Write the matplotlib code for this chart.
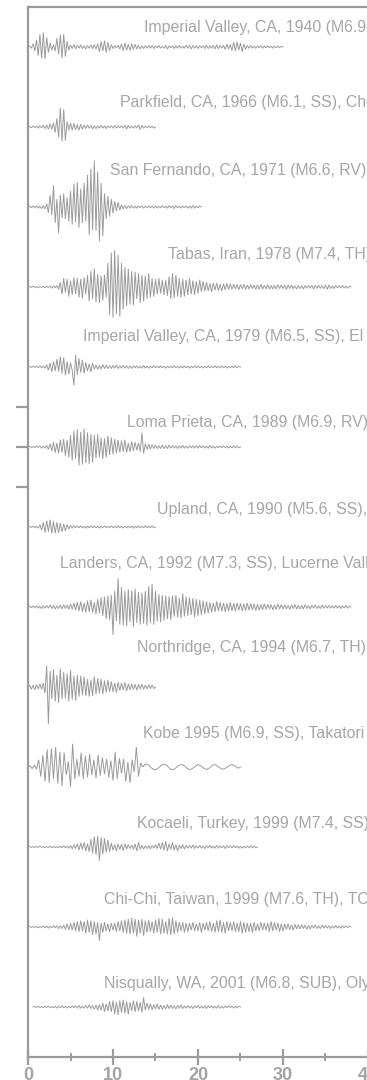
import numpy as np
import matplotlib

matplotlib.use("Agg")
import matplotlib.pyplot as plt
from matplotlib.ticker import MultipleLocator

GREY = "#9b9b9b"

# record names (clipped at the right edge in the original)
labels = [
    "Imperial Valley, CA, 1940 (M6.9, SS), El Centro",
    "Parkfield, CA, 1966 (M6.1, SS), Cholame 2",
    "San Fernando, CA, 1971 (M6.6, RV)",
    "Tabas, Iran, 1978 (M7.4, TH), Tabas",
    "Imperial Valley, CA, 1979 (M6.5, SS), El Centro #6",
    "Loma Prieta, CA, 1989 (M6.9, RV), Los Gatos",
    "Upland, CA, 1990 (M5.6, SS), Pomona",
    "Landers, CA, 1992 (M7.3, SS), Lucerne Valley",
    "Northridge, CA, 1994 (M6.7, TH)",
    "Kobe 1995 (M6.9, SS), Takatori",
    "Kocaeli, Turkey, 1999 (M7.4, SS), Yarimca",
    "Chi-Chi, Taiwan, 1999 (M7.6, TH), TCU068",
    "Nisqually, WA, 2001 (M6.8, SUB), Olympia",
]

# time step (s) and start time of every record
dt = [0.2, 0.2, 0.2, 0.2, 0.2, 0.2, 0.2, 0.2, 0.2, 0.25, 0.2, 0.2, 0.2]
t0 = [0, 0, 0, 0, 0, 0, 0, 0, 0, 0, 0, 0, 0.6]

# accelerations in 0.01 g
imperial_1940 = [
    0, 2, -3, 8, -10, 18, -22, 32, -28, 36, -30, 24, -14, 10, -8, 6, -10, 22, -18, 30,
    -28, 32, -24, 14, -8, 5, -4, 6, -5, 4, -3, 5, -4, 3, -5, 4, -3, 5, -4, 6,
    -5, 8, -12, 14, -10, 16, -14, 12, -9, 6, -4, 3, -2, 4, -5, 8, -9, 10, -8, 7,
    -9, 8, -6, 7, -5, 4, -5, 3, -4, 3, -3, 4, -3, 3, -4, 3, -2, 4, -3, 2,
    -3, 4, -5, 3, -2, 3, -4, 3, -3, 4, -3, 2, -3, 4, -3, 4, -5, 4, -3, 3,
    -4, 3, -2, 3, -4, 5, -4, 3, -3, 4, -5, 6, -5, 4, -3, 4, -6, 7, -5, 6,
    -9, 12, -10, 13, -8, 10, -12, 8, -6, 4, -3, 4, -3, 2, -3, 3, -2, 3, -3, 2,
    -2, 3, -2, 2, -3, 2, -2, 3, -2, 2, 0,
]
parkfield_1966 = [
    0, 1, -2, 2, -1, 2, -3, 3, -2, 4, -4, 5, -6, 8, -6, 10, -14, 22, -26, 48,
    -36, 44, -34, 14, -8, 10, -8, 9, -7, 6, -8, 7, -6, 5, -4, 5, -3, 4, -5, 3,
    -4, 3, -3, 4, -3, 3, -4, 3, -2, 3, -3, 4, -3, 3, -2, 3, -3, 4, -5, 4,
    -3, 2, -3, 3, -2, 5, -6, 4, -3, 2, -2, 3, -2, 2, -3, 0,
]
san_fernando_1971 = [
    0, 2, -2, 3, -2, 3, -3, 2, -4, 3, -5, 8, -14, 30, -20, 54, -40, 20, -66, 30,
    -28, 34, -30, 24, -36, 40, -44, 58, -38, 62, -52, 46, -40, 60, -36, 80, -70, 96, -58, 116,
    -60, 88, -86, 60, -72, 34, -30, 28, -24, 20, -16, 14, -10, 12, -8, 6, -5, 4, -4, 3,
    -3, 4, -3, 2, -3, 3, -2, 3, -3, 2, -2, 3, -2, 2, -3, 3, -3, 2, -2, 3,
    -2, 2, -3, 3, -2, 3, -4, 3, -2, 2, -3, 2, -2, 3, -3, 2, -3, 4, -3, 2,
    -2, 2, 0,
]
tabas_1978 = [
    0, 1, -1, 2, -1, 1, -2, 1, -1, 2, -2, 2, -1, 2, -3, 3, -2, 4, -6, 12,
    -18, 22, -14, 20, -24, 16, -20, 24, -18, 22, -26, 20, -28, 24, -18, 30, -36, 40, -30, 46,
    -38, 32, -40, 28, -34, 30, -26, 60, -70, 86, -76, 92, -68, 80, -74, 60, -56, 50, -48, 46,
    -44, 40, -46, 38, -30, 34, -40, 30, -36, 28, -30, 34, -26, 22, -24, 20, -18, 22, -16, 18,
    -20, 18, -22, 26, -30, 34, -28, 30, -24, 22, -26, 20, -24, 18, -20, 22, -18, 16, -20, 14,
    -16, 18, -12, 14, -10, 12, -10, 9, -12, 10, -8, 10, -9, 7, -10, 8, -7, 9, -6, 8,
    -6, 7, -5, 6, -7, 6, -5, 7, -6, 5, -5, 6, -4, 5, -6, 5, -6, 7, -5, 4,
    -5, 6, -5, 4, -5, 4, -5, 6, -4, 5, -4, 5, -6, 5, -4, 5, -4, 3, -5, 4,
    -4, 3, -5, 4, -3, 4, -3, 4, -5, 4, -3, 4, -3, 3, -4, 5, -6, 5, -4, 3,
    -4, 3, -2, 3, -3, 4, -3, 2, -3, 2, 0,
]
imperial_1979 = [
    0, 1, -1, 2, -1, 2, -2, 3, -2, 2, -3, 6, -8, 10, -12, 14, -10, 20, -12, 26,
    -16, 24, -20, 14, -18, 10, -8, -46, 30, -20, 22, -14, 18, -16, 12, -10, 8, -12, 10, -6,
    5, -6, 4, -5, 6, -4, 5, -4, 3, -4, 4, -3, 5, -4, 3, -3, 4, -3, 3, -4,
    3, -4, 3, -2, 3, -3, 2, -3, 4, -3, 2, -3, 2, -2, 3, -2, 2, -2, 3, -2,
    2, -3, 2, -2, 2, -2, 3, -2, 2, -3, 2, -2, 3, -2, 2, -3, 2, -2, 3, -2,
    2, -2, 2, -3, 2, -2, 3, -2, 2, -2, 3, -2, 2, -2, 3, -2, 2, -3, 2, -2,
    2, -2, 3, -2, 2, 0,
]
loma_prieta_1989 = [
    0, 1, -1, 1, -2, 2, -1, 2, -3, 2, -3, 4, -6, 8, -10, 12, -14, 10, -16, 18,
    -14, 20, -22, 18, -26, 30, -34, 40, -30, 44, -46, 38, -44, 46, -40, 36, -42, 32, -38, 30,
    -28, 32, -26, 24, -30, 22, -26, 28, -20, 24, -18, 20, -16, 18, -14, 16, -12, 18, -14, 10,
    -12, 14, -10, 12, -8, 10, -12, 36, -16, 8, -6, 7, -5, 6, -4, 5, -4, 3, -4, 5,
    -4, 3, -4, 5, -3, 4, -3, 3, -4, 3, -3, 4, -3, 2, -3, 3, -2, 3, -3, 4,
    -3, 3, -2, 3, -3, 2, -3, 4, -3, 2, -3, 2, -2, 3, -2, 3, -2, 2, -3, 2,
    -2, 3, -2, 2, -2, 0,
]
upland_1990 = [
    0, 1, -1, 2, -2, 2, -3, 6, -8, 12, -14, 16, -12, 18, -16, 14, -16, 12, -14, 10,
    -12, 8, -10, 6, -5, 4, -3, 3, -2, 3, -2, 3, -2, 2, -3, 2, -2, 3, -2, 2,
    -2, 2, -3, 2, -2, 3, -2, 2, -2, 3, -2, 2, -2, 3, -2, 2, -3, 2, -2, 2,
    -2, 2, -3, 2, -2, 3, -2, 2, -2, 3, -2, 2, -2, 3, -2, 0,
]
landers_1992 = [
    0, 2, -2, 3, -2, 3, -3, 2, -4, 3, -3, 4, -3, 5, -4, 4, -5, 3, -4, 5,
    -5, 6, -4, 5, -6, 8, -6, 10, -8, 12, -10, 14, -12, 10, -14, 16, -12, 18, -14, 12,
    -18, 20, -16, 24, -22, 26, -30, 28, -32, 30, -70, 40, -36, 72, -44, 50, -46, 40, -48, 44,
    -38, 42, -50, 46, -40, 38, -44, 36, -42, 40, -46, 52, -40, 58, -44, 40, -36, 32, -38, 30,
    -34, 28, -30, 26, -32, 28, -24, 30, -26, 22, -28, 34, -24, 26, -22, 24, -20, 22, -26, 20,
    -22, 18, -20, 16, -18, 14, -16, 12, -14, 10, -12, 14, -10, 12, -11, 10, -12, 9, -10, 12,
    -10, 9, -11, 10, -8, 9, -10, 8, -9, 10, -8, 9, -7, 8, -9, 7, -8, 6, -7, 8,
    -6, 7, -5, 6, -7, 5, -6, 7, -5, 6, -5, 6, -5, 4, -6, 5, -4, 6, -5, 4,
    -5, 4, -5, 6, -4, 4, -5, 4, -3, 5, -4, 3, -4, 5, -3, 4, -3, 4, -3, 3,
    -3, 4, -3, 3, -4, 3, -3, 4, -3, 2, 0,
]
northridge_1994 = [
    0, 4, -6, 5, -7, 6, -5, 8, -6, 10, -16, 54, -92, 40, -30, 44, -36, 30, -40, 46,
    -30, 38, -28, 34, -36, 42, -32, 28, -34, 30, -24, 28, -20, 26, -22, 20, -24, 18, -22, 26,
    -18, 22, -16, 20, -18, 16, -14, 18, -12, 14, -12, 10, -14, 12, -9, 10, -8, 12, -10, 8,
    -7, 8, -6, 7, -8, 6, -5, 7, -6, 5, -5, 6, -4, 5, -4, 0,
]
kobe_1995 = [
    0, 3, -4, 5, -6, 18, -24, 30, -36, 44, -40, 46, -30, 50, -42, 38, -48, 36, -20, 14,
    -50, 58, -30, 20, -24, 36, -30, 28, -26, 32, -20, 18, -28, 30, -22, 24, -18, 20, -26, 16,
    -34, 38, -30, 22, -16, 20, -36, 12, -40, 18, -12, 50, -24, 10, 0, 6, 7, 4, -2, -6,
    -7, -4, 1, 5, 7, 5, 0, -5, -7, -5, 0, 4, 6, 5, 1, -4, -6, -5, -1, 3,
    6, 4, 0, -4, -6, -4, 1, 5, 6, 3, -1, -5, -5, -3, 1, 4, 6, 4, 0, -3,
    0,
]
kocaeli_1999 = [
    0, 1, -1, 1, -1, 1, -1, 2, -1, 1, -2, 1, -1, 2, -2, 2, -2, 1, -2, 2,
    -2, 3, -2, 2, -3, 4, -5, 6, -4, 8, -8, 10, -6, 12, -10, 8, -12, 20, -16, 26,
    -20, 28, -34, 24, -18, 22, -14, 18, -12, 10, -8, 6, -10, 8, -6, 7, -9, 8, -5, 6,
    -4, 5, -6, 8, -10, 12, -6, 4, -5, 3, -4, 3, -5, 4, -3, 6, -4, 10, -6, 12,
    -8, 14, -10, 8, -6, 12, -8, 6, -10, 5, -4, 6, -5, 4, -3, 4, -3, 5, -4, 3,
    -3, 4, -3, 2, -4, 3, -2, 4, -3, 2, -3, 4, -3, 3, -2, 3, -4, 3, -2, 3,
    -2, 3, -2, 2, -3, 2, -3, 2, -2, 2, -2, 3, -2, 2, -2, 0,
]
chichi_1999 = [
    0, 1, -1, 1, -1, 1, -2, 1, -1, 2, -2, 2, -3, 2, -2, 3, -2, 3, -4, 3,
    -4, 5, -6, 8, -7, 10, -8, 12, -10, 14, -12, 16, -10, 14, -16, 18, -14, 16, -20, 14,
    -18, 12, -34, 10, -14, 12, -10, 8, -12, 10, -8, 10, -12, 14, -10, 16, -14, 18, -16, 20,
    -18, 22, -16, 20, -24, 18, -16, 20, -22, 16, -14, 18, -12, 14, -16, 18, -14, 22, -18, 20,
    -16, 14, -18, 22, -20, 24, -18, 16, -14, 12, -10, 12, -14, 10, -12, 10, -8, 12, -10, 8,
    -10, 12, -14, 10, -8, 12, -10, 14, -12, 10, -14, 16, -12, 18, -14, 12, -16, 14, -10, 12,
    -10, 14, -12, 10, -12, 14, -16, 12, -14, 10, -12, 10, -14, 12, -10, 8, -10, 12, -8, 10,
    -8, 10, -12, 14, -10, 12, -8, 10, -12, 8, -10, 8, -6, 8, -7, 6, -8, 7, -5, 6,
    -5, 6, -4, 5, -6, 4, -5, 4, -3, 5, -4, 3, -4, 5, -3, 4, -3, 3, -4, 3,
    -3, 4, -3, 2, -3, 3, -2, 3, -2, 2, 0,
]
nisqually_2001 = [
    0, 1, -1, 2, -1, 1, -2, 2, -1, 2, -2, 1, -2, 2, -3, 2, -2, 3, -2, 2,
    -3, 2, -2, 3, -2, 3, -3, 4, -3, 2, -3, 4, -3, 5, -4, 4, -6, 5, -8, 6,
    -8, 10, -12, 8, -10, 14, -12, 16, -18, 12, -20, 16, -14, 18, -16, 14, -18, 12, -10, 16,
    -12, 14, -10, 12, -14, 24, -8, 10, -6, 8, -7, 6, -5, 8, -6, 5, -6, 4, -5, 6,
    -4, 5, -4, 3, -5, 4, -3, 5, -4, 3, -3, 4, -3, 3, -4, 3, -2, 4, -3, 2,
    -3, 3, -4, 3, -2, 3, -3, 2, -3, 4, -3, 2, -3, 3, -2, 3, -2, 2, -3, 2,
    -2, 2, 0,
]

records = [
    imperial_1940, parkfield_1966, san_fernando_1971, tabas_1978, imperial_1979,
    loma_prieta_1989, upland_1990, landers_1992, northridge_1994, kobe_1995,
    kocaeli_1999, chichi_1999, nisqually_2001,
]

# label placement: left edge (s) and height above the trace baseline (g)
label_x = [13.6, 10.8, 9.6, 16.5, 6.5, 11.6, 15.2, 3.8, 12.8, 13.5, 12.8, 8.9, 8.9]
label_dy = [0.48, 0.62, 0.9, 0.8, 0.75, 0.62, 0.45, 1.1, 1.0, 0.85, 0.58, 0.7, 0.58]
spacing = 2.0  # g between stacked traces

fig = plt.figure(figsize=(3.67, 10.8), dpi=100)
ax = fig.add_axes([28 / 367, 23 / 1080, 8.5 * 41 / 367, 1050 / 1080])
ax.set_xlim(0, 41)
ax.set_ylim(-25.25, 1.0)

for i, acc in enumerate(records):
    acc = np.asarray(acc, dtype=float) / 100.0
    t = t0[i] + np.arange(len(acc)) * dt[i]
    base = -spacing * i
    ax.plot(t, base + acc, color=GREY, lw=0.7, solid_joinstyle="miter")
    ax.text(label_x[i], base + label_dy[i], labels[i], ha="left", va="center",
            fontsize=11.4, color="#a6a6a6", family=["Liberation Sans", "DejaVu Sans"],
            clip_on=False)

ax.spines["right"].set_visible(False)
for side in ["left", "top", "bottom"]:
    ax.spines[side].set_color(GREY)
    ax.spines[side].set_linewidth(1.6)

ax.xaxis.set_major_locator(MultipleLocator(10))
ax.xaxis.set_minor_locator(MultipleLocator(5))
ax.tick_params(axis="x", which="major", direction="inout", length=12, width=1.6,
               color=GREY, pad=1)
ax.tick_params(axis="x", which="minor", direction="inout", length=6, width=1.4,
               color=GREY)
for lab in ax.get_xticklabels():
    lab.set_fontweight("bold")
    lab.set_fontsize(13)
    lab.set_color("#a3a3a3")
    lab.set_family(["Liberation Sans", "DejaVu Sans"])

# +/-1 g scale ticks on the Loma Prieta trace
ax.set_yticks([-9, -10, -11])
ax.set_yticklabels([])
ax.tick_params(axis="y", direction="out", length=9, width=1.6, color=GREY)

fig.savefig("out.png", dpi=100)
